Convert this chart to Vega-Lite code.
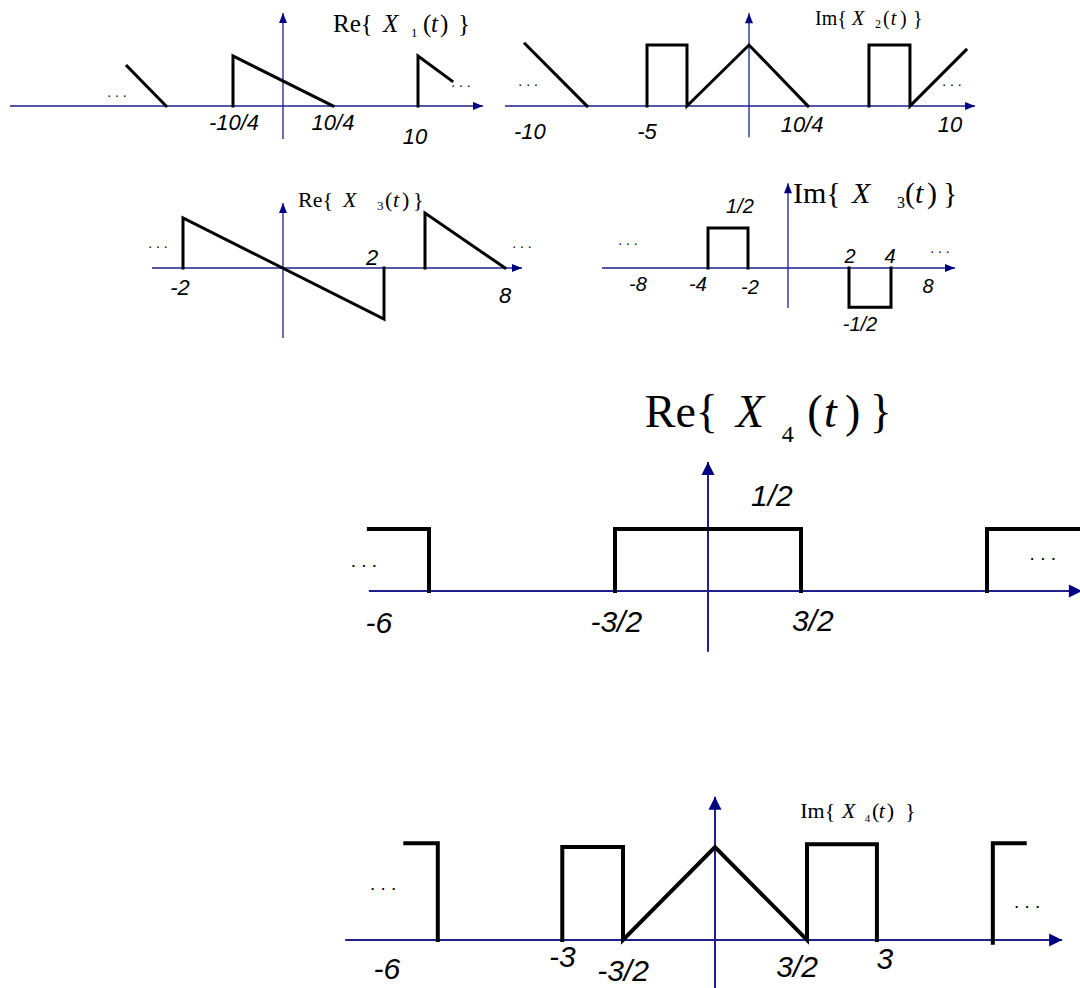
{
"$schema": "https://vega.github.io/schema/vega-lite/v6.json",
"width": 1080, "height": 988, "padding": 0, "autosize": {"type": "none"},
"background": "white",
"config": {"view": {"stroke": null}},
"datasets": {
"sig": [
{"p":1,"s":"a","i":0,"t":-7.8,"v":0.8},{"p":1,"s":"a","i":1,"t":-5.85,"v":0},
{"p":1,"s":"b","i":0,"t":-2.5,"v":0},{"p":1,"s":"b","i":1,"t":-2.5,"v":1},{"p":1,"s":"b","i":2,"t":2.5,"v":0},
{"p":1,"s":"c","i":0,"t":6.75,"v":0},{"p":1,"s":"c","i":1,"t":6.75,"v":1},{"p":1,"s":"c","i":2,"t":8.45,"v":0.5},
{"p":2,"s":"a","i":0,"t":-10.98,"v":1.02},{"p":2,"s":"a","i":1,"t":-7.94,"v":0},
{"p":2,"s":"b","i":0,"t":-5,"v":0},{"p":2,"s":"b","i":1,"t":-5,"v":1},{"p":2,"s":"b","i":2,"t":-3.04,"v":1},{"p":2,"s":"b","i":3,"t":-3.04,"v":0},{"p":2,"s":"b","i":4,"t":0,"v":1},{"p":2,"s":"b","i":5,"t":2.89,"v":0},
{"p":2,"s":"c","i":0,"t":5.88,"v":0},{"p":2,"s":"c","i":1,"t":5.88,"v":1},{"p":2,"s":"c","i":2,"t":7.89,"v":1},{"p":2,"s":"c","i":3,"t":7.89,"v":0},{"p":2,"s":"c","i":4,"t":10.64,"v":0.92},
{"p":3,"s":"a","i":0,"t":-2,"v":0},{"p":3,"s":"a","i":1,"t":-2,"v":1},{"p":3,"s":"a","i":2,"t":2.02,"v":-1.02},{"p":3,"s":"a","i":3,"t":2.02,"v":0},
{"p":3,"s":"b","i":0,"t":2.84,"v":0},{"p":3,"s":"b","i":1,"t":2.84,"v":1.1},{"p":3,"s":"b","i":2,"t":4.44,"v":0},
{"p":4,"s":"a","i":0,"t":-4,"v":0},{"p":4,"s":"a","i":1,"t":-4,"v":0.5},{"p":4,"s":"a","i":2,"t":-2,"v":0.5},{"p":4,"s":"a","i":3,"t":-2,"v":0},
{"p":4,"s":"b","i":0,"t":3.05,"v":0},{"p":4,"s":"b","i":1,"t":3.05,"v":-0.49},{"p":4,"s":"b","i":2,"t":5.15,"v":-0.49},{"p":4,"s":"b","i":3,"t":5.15,"v":0},
{"p":5,"s":"a","i":0,"t":-5.47,"v":0.5},{"p":5,"s":"a","i":1,"t":-4.5,"v":0.5},{"p":5,"s":"a","i":2,"t":-4.5,"v":0},
{"p":5,"s":"b","i":0,"t":-1.5,"v":0},{"p":5,"s":"b","i":1,"t":-1.5,"v":0.5},{"p":5,"s":"b","i":2,"t":1.5,"v":0.5},{"p":5,"s":"b","i":3,"t":1.5,"v":0},
{"p":5,"s":"c","i":0,"t":4.5,"v":0},{"p":5,"s":"c","i":1,"t":4.5,"v":0.5},{"p":5,"s":"c","i":2,"t":6.1,"v":0.5},
{"p":6,"s":"a","i":0,"t":-5.05,"v":1.04},{"p":6,"s":"a","i":1,"t":-4.52,"v":1.04},{"p":6,"s":"a","i":2,"t":-4.52,"v":0},
{"p":6,"s":"b","i":0,"t":-2.49,"v":0},{"p":6,"s":"b","i":1,"t":-2.49,"v":1.0},{"p":6,"s":"b","i":2,"t":-1.5,"v":1.0},{"p":6,"s":"b","i":3,"t":-1.5,"v":0},{"p":6,"s":"b","i":4,"t":0,"v":1.0},{"p":6,"s":"b","i":5,"t":1.5,"v":0},{"p":6,"s":"b","i":6,"t":1.5,"v":1.03},{"p":6,"s":"b","i":7,"t":2.64,"v":1.03},{"p":6,"s":"b","i":8,"t":2.64,"v":0},
{"p":6,"s":"c","i":0,"t":4.53,"v":-0.03},{"p":6,"s":"c","i":1,"t":4.53,"v":1.04},{"p":6,"s":"c","i":2,"t":5.05,"v":1.04}
],
"ax": [
{"p":1,"t":-13.65,"t2":10,"v":0,"v2":0},{"p":1,"t":0,"t2":0,"v":-0.66,"v2":1.86},
{"p":2,"t":-11.96,"t2":11.08,"v":0,"v2":0},{"p":2,"t":0,"t2":0,"v":-0.51,"v2":1.52},
{"p":3,"t":-2.62,"t2":4.78,"v":0,"v2":0},{"p":3,"t":0,"t2":0,"v":-1.4,"v2":1.3},
{"p":4,"t":-9.3,"t2":8.35,"v":0,"v2":0},{"p":4,"t":0,"t2":0,"v":-0.5,"v2":1.06},
{"p":5,"t":-5.47,"t2":6.03,"v":0,"v2":0},{"p":5,"t":0,"t2":0,"v":-0.49,"v2":1.04},
{"p":6,"t":-6.03,"t2":5.66,"v":0,"v2":0},{"p":6,"t":0,"t2":0,"v":-0.6,"v2":1.54}
],
"tip": [
{"p":1,"d":"h","t":10,"v":0},{"p":1,"d":"v","t":0,"v":1.86},
{"p":2,"d":"h","t":11.08,"v":0},{"p":2,"d":"v","t":0,"v":1.52},
{"p":3,"d":"h","t":4.78,"v":0},{"p":3,"d":"v","t":0,"v":1.3},
{"p":4,"d":"h","t":8.35,"v":0},{"p":4,"d":"v","t":0,"v":1.06},
{"p":5,"d":"h","t":6.03,"v":0},{"p":5,"d":"v","t":0,"v":1.04},
{"p":6,"d":"h","t":5.66,"v":0},{"p":6,"d":"v","t":0,"v":1.54}
],
"lab": [
{"p":1,"t":-2.45,"v":-0.34,"text":"-10/4"},{"p":1,"t":2.5,"v":-0.34,"text":"10/4"},{"p":1,"t":6.6,"v":-0.62,"text":"10"},
{"p":2,"t":-10.74,"v":-0.43,"text":"-10"},{"p":2,"t":-5,"v":-0.42,"text":"-5"},{"p":2,"t":2.6,"v":-0.31,"text":"10/4"},{"p":2,"t":9.85,"v":-0.31,"text":"10"},
{"p":3,"t":-2.06,"v":-0.4,"text":"-2"},{"p":3,"t":1.78,"v":0.2,"text":"2"},{"p":3,"t":4.44,"v":-0.56,"text":"8"},
{"p":4,"t":-2.4,"v":0.76,"text":"1/2"},{"p":4,"t":-7.5,"v":-0.21,"text":"-8"},{"p":4,"t":-4.5,"v":-0.21,"text":"-4"},{"p":4,"t":-1.9,"v":-0.25,"text":"-2"},{"p":4,"t":3.1,"v":0.14,"text":"2"},{"p":4,"t":5.1,"v":0.14,"text":"4"},{"p":4,"t":7.0,"v":-0.24,"text":"8"},{"p":4,"t":3.6,"v":-0.71,"text":"-1/2"},
{"p":5,"t":1.03,"v":0.76,"text":"1/2"},{"p":5,"t":-5.31,"v":-0.27,"text":"-6"},{"p":5,"t":-1.48,"v":-0.26,"text":"-3/2"},{"p":5,"t":1.69,"v":-0.25,"text":"3/2"},
{"p":6,"t":-5.35,"v":-0.32,"text":"-6"},{"p":6,"t":-2.49,"v":-0.19,"text":"-3"},{"p":6,"t":-1.5,"v":-0.34,"text":"-3/2"},{"p":6,"t":1.34,"v":-0.3,"text":"3/2"},{"p":6,"t":2.77,"v":-0.22,"text":"3"}
],
"dot": [
{"p":1,"t":-8.3,"v":0.18},{"p":1,"t":8.9,"v":0.38},
{"p":2,"t":-10.83,"v":0.33},{"p":2,"t":9.95,"v":0.33},
{"p":3,"t":-2.5,"v":0.4},{"p":3,"t":4.78,"v":0.4},
{"p":4,"t":-8.0,"v":0.29},{"p":4,"t":7.6,"v":0.19},
{"p":5,"t":-5.55,"v":0.19},{"p":5,"t":5.4,"v":0.25},
{"p":6,"t":-5.41,"v":0.54},{"p":6,"t":5.09,"v":0.34}
],
"ttl": [
{"p":1,"k":"n","t":2.5,"v":1.48,"text":"Re{"},{"p":1,"k":"i","t":5.0,"v":1.48,"text":"X"},{"p":1,"k":"s","t":6.4,"v":1.38,"text":"1"},{"p":1,"k":"n","t":7.0,"v":1.48,"text":"("},{"p":1,"k":"i","t":7.4,"v":1.48,"text":"t"},{"p":1,"k":"n","t":7.85,"v":1.48,"text":")"},{"p":1,"k":"n","t":8.75,"v":1.48,"text":"}"},
{"p":2,"k":"n","t":3.24,"v":1.33,"text":"Im{"},{"p":2,"k":"i","t":5.05,"v":1.33,"text":"X"},{"p":2,"k":"s","t":6.18,"v":1.28,"text":"2"},{"p":2,"k":"n","t":6.57,"v":1.33,"text":"("},{"p":2,"k":"i","t":6.95,"v":1.33,"text":"t"},{"p":2,"k":"n","t":7.4,"v":1.33,"text":")"},{"p":2,"k":"n","t":8.04,"v":1.33,"text":"}"},
{"p":3,"k":"n","t":0.3,"v":1.22,"text":"Re{"},{"p":3,"k":"i","t":1.2,"v":1.22,"text":"X"},{"p":3,"k":"s","t":1.88,"v":1.16,"text":"3"},{"p":3,"k":"n","t":2.04,"v":1.22,"text":"("},{"p":3,"k":"i","t":2.2,"v":1.22,"text":"t"},{"p":3,"k":"n","t":2.38,"v":1.22,"text":")"},{"p":3,"k":"n","t":2.6,"v":1.22,"text":"}"},
{"p":4,"k":"n","t":0.25,"v":0.81,"text":"Im{"},{"p":4,"k":"i","t":3.2,"v":0.81,"text":"X"},{"p":4,"k":"s","t":5.45,"v":0.75,"text":"3"},{"p":4,"k":"n","t":5.85,"v":0.81,"text":"("},{"p":4,"k":"i","t":6.35,"v":0.81,"text":"t"},{"p":4,"k":"n","t":6.95,"v":0.81,"text":")"},{"p":4,"k":"n","t":7.75,"v":0.81,"text":"}"},
{"p":5,"k":"n","t":-1.02,"v":1.32,"text":"Re{"},{"p":5,"k":"i","t":0.45,"v":1.32,"text":"X"},{"p":5,"k":"s","t":1.19,"v":1.2,"text":"4"},{"p":5,"k":"n","t":1.6,"v":1.32,"text":"("},{"p":5,"k":"i","t":1.87,"v":1.32,"text":"t"},{"p":5,"k":"n","t":2.21,"v":1.32,"text":")"},{"p":5,"k":"n","t":2.61,"v":1.32,"text":"}"},
{"p":6,"k":"n","t":1.39,"v":1.31,"text":"Im{"},{"p":6,"k":"i","t":2.07,"v":1.31,"text":"X"},{"p":6,"k":"s","t":2.44,"v":1.27,"text":"4"},{"p":6,"k":"n","t":2.56,"v":1.31,"text":"("},{"p":6,"k":"i","t":2.67,"v":1.31,"text":"t"},{"p":6,"k":"n","t":2.8,"v":1.31,"text":")"},{"p":6,"k":"n","t":3.1,"v":1.31,"text":"}"}
]
},
"resolve": {"scale": {"x": "independent", "y": "independent"}},
"layer": [
{
"encoding": {
"x": {"field": "t", "type": "quantitative", "scale": {"domain": [-14.15, 39.85], "nice": false, "zero": false}, "axis": null},
"y": {"field": "v", "type": "quantitative", "scale": {"domain": [-17.64, 2.12], "nice": false, "zero": false}, "axis": null}
},
"layer": [
{"data": {"name": "ax"}, "transform": [{"filter": "datum.p == 1"}], "mark": {"type": "rule", "color": "#1f1f8f", "strokeWidth": 1.3}, "encoding": {"x2": {"field": "t2"}, "y2": {"field": "v2"}}},
{"data": {"name": "tip"}, "transform": [{"filter": "datum.p == 1 && datum.d == 'h'"}], "mark": {"type": "point", "shape": "M 0 0 L -2.5 -1 L -2.5 1 Z", "filled": true, "size": 64, "color": "#000080", "opacity": 1}},
{"data": {"name": "tip"}, "transform": [{"filter": "datum.p == 1 && datum.d == 'v'"}], "mark": {"type": "point", "shape": "M 0 0 L -1 2.5 L 1 2.5 Z", "filled": true, "size": 64, "color": "#000080", "opacity": 1}},
{"data": {"name": "sig"}, "transform": [{"filter": "datum.p == 1"}], "mark": {"type": "line", "color": "black", "strokeWidth": 3, "strokeJoin": "miter", "strokeCap": "square"}, "encoding": {"detail": {"field": "s", "type": "nominal"}, "order": {"field": "i", "type": "quantitative"}}},
{"data": {"name": "lab"}, "transform": [{"filter": "datum.p == 1"}], "mark": {"type": "text", "font": "Liberation Sans", "fontStyle": "italic", "fontSize": 22, "align": "center", "baseline": "middle", "color": "black"}, "encoding": {"text": {"field": "text"}}},
{"data": {"name": "dot"}, "transform": [{"filter": "datum.p == 1"}], "mark": {"type": "text", "text": ". . .", "font": "Liberation Sans", "fontSize": 14, "align": "center", "baseline": "alphabetic", "color": "black"}},
{"data": {"name": "ttl"}, "transform": [{"filter": "datum.p == 1 && datum.k == 'n'"}], "mark": {"type": "text", "font": "Liberation Serif", "fontSize": 25, "align": "left", "baseline": "alphabetic", "color": "black"}, "encoding": {"text": {"field": "text"}}},
{"data": {"name": "ttl"}, "transform": [{"filter": "datum.p == 1 && datum.k == 'i'"}], "mark": {"type": "text", "font": "Liberation Serif", "fontStyle": "italic", "fontSize": 25, "align": "left", "baseline": "alphabetic", "color": "black"}, "encoding": {"text": {"field": "text"}}},
{"data": {"name": "ttl"}, "transform": [{"filter": "datum.p == 1 && datum.k == 's'"}], "mark": {"type": "text", "font": "Liberation Serif", "fontSize": 13, "align": "left", "baseline": "alphabetic", "color": "black"}, "encoding": {"text": {"field": "text"}}}
]
},
{
"encoding": {
"x": {"field": "t", "type": "quantitative", "scale": {"domain": [-36.716, 16.225], "nice": false, "zero": false}, "axis": null},
"y": {"field": "v", "type": "quantitative", "scale": {"domain": [-14.459, 1.738], "nice": false, "zero": false}, "axis": null}
},
"layer": [
{"data": {"name": "ax"}, "transform": [{"filter": "datum.p == 2"}], "mark": {"type": "rule", "color": "#1f1f8f", "strokeWidth": 1.3}, "encoding": {"x2": {"field": "t2"}, "y2": {"field": "v2"}}},
{"data": {"name": "tip"}, "transform": [{"filter": "datum.p == 2 && datum.d == 'h'"}], "mark": {"type": "point", "shape": "M 0 0 L -2.5 -1 L -2.5 1 Z", "filled": true, "size": 64, "color": "#000080", "opacity": 1}},
{"data": {"name": "tip"}, "transform": [{"filter": "datum.p == 2 && datum.d == 'v'"}], "mark": {"type": "point", "shape": "M 0 0 L -1 2.5 L 1 2.5 Z", "filled": true, "size": 64, "color": "#000080", "opacity": 1}},
{"data": {"name": "sig"}, "transform": [{"filter": "datum.p == 2"}], "mark": {"type": "line", "color": "black", "strokeWidth": 3, "strokeJoin": "miter", "strokeCap": "square"}, "encoding": {"detail": {"field": "s", "type": "nominal"}, "order": {"field": "i", "type": "quantitative"}}},
{"data": {"name": "lab"}, "transform": [{"filter": "datum.p == 2"}], "mark": {"type": "text", "font": "Liberation Sans", "fontStyle": "italic", "fontSize": 22, "align": "center", "baseline": "middle", "color": "black"}, "encoding": {"text": {"field": "text"}}},
{"data": {"name": "dot"}, "transform": [{"filter": "datum.p == 2"}], "mark": {"type": "text", "text": ". . .", "font": "Liberation Sans", "fontSize": 14, "align": "center", "baseline": "alphabetic", "color": "black"}},
{"data": {"name": "ttl"}, "transform": [{"filter": "datum.p == 2 && datum.k == 'n'"}], "mark": {"type": "text", "font": "Liberation Serif", "fontSize": 20, "align": "left", "baseline": "alphabetic", "color": "black"}, "encoding": {"text": {"field": "text"}}},
{"data": {"name": "ttl"}, "transform": [{"filter": "datum.p == 2 && datum.k == 'i'"}], "mark": {"type": "text", "font": "Liberation Serif", "fontStyle": "italic", "fontSize": 20, "align": "left", "baseline": "alphabetic", "color": "black"}, "encoding": {"text": {"field": "text"}}},
{"data": {"name": "ttl"}, "transform": [{"filter": "datum.p == 2 && datum.k == 's'"}], "mark": {"type": "text", "font": "Liberation Serif", "fontSize": 12, "align": "left", "baseline": "alphabetic", "color": "black"}, "encoding": {"text": {"field": "text"}}}
]
},
{
"encoding": {
"x": {"field": "t", "type": "quantitative", "scale": {"domain": [-5.66, 15.94], "nice": false, "zero": false}, "axis": null},
"y": {"field": "v", "type": "quantitative", "scale": {"domain": [-14.4, 5.36], "nice": false, "zero": false}, "axis": null}
},
"layer": [
{"data": {"name": "ax"}, "transform": [{"filter": "datum.p == 3"}], "mark": {"type": "rule", "color": "#1f1f8f", "strokeWidth": 1.3}, "encoding": {"x2": {"field": "t2"}, "y2": {"field": "v2"}}},
{"data": {"name": "tip"}, "transform": [{"filter": "datum.p == 3 && datum.d == 'h'"}], "mark": {"type": "point", "shape": "M 0 0 L -2.5 -1 L -2.5 1 Z", "filled": true, "size": 64, "color": "#000080", "opacity": 1}},
{"data": {"name": "tip"}, "transform": [{"filter": "datum.p == 3 && datum.d == 'v'"}], "mark": {"type": "point", "shape": "M 0 0 L -1 2.5 L 1 2.5 Z", "filled": true, "size": 64, "color": "#000080", "opacity": 1}},
{"data": {"name": "sig"}, "transform": [{"filter": "datum.p == 3"}], "mark": {"type": "line", "color": "black", "strokeWidth": 3, "strokeJoin": "miter", "strokeCap": "square"}, "encoding": {"detail": {"field": "s", "type": "nominal"}, "order": {"field": "i", "type": "quantitative"}}},
{"data": {"name": "lab"}, "transform": [{"filter": "datum.p == 3"}], "mark": {"type": "text", "font": "Liberation Sans", "fontStyle": "italic", "fontSize": 22, "align": "center", "baseline": "middle", "color": "black"}, "encoding": {"text": {"field": "text"}}},
{"data": {"name": "dot"}, "transform": [{"filter": "datum.p == 3"}], "mark": {"type": "text", "text": ". . .", "font": "Liberation Sans", "fontSize": 14, "align": "center", "baseline": "alphabetic", "color": "black"}},
{"data": {"name": "ttl"}, "transform": [{"filter": "datum.p == 3 && datum.k == 'n'"}], "mark": {"type": "text", "font": "Liberation Serif", "fontSize": 22, "align": "left", "baseline": "alphabetic", "color": "black"}, "encoding": {"text": {"field": "text"}}},
{"data": {"name": "ttl"}, "transform": [{"filter": "datum.p == 3 && datum.k == 'i'"}], "mark": {"type": "text", "font": "Liberation Serif", "fontStyle": "italic", "fontSize": 22, "align": "left", "baseline": "alphabetic", "color": "black"}, "encoding": {"text": {"field": "text"}}},
{"data": {"name": "ttl"}, "transform": [{"filter": "datum.p == 3 && datum.k == 's'"}], "mark": {"type": "text", "font": "Liberation Serif", "fontSize": 13, "align": "left", "baseline": "alphabetic", "color": "black"}, "encoding": {"text": {"field": "text"}}}
]
},
{
"encoding": {
"x": {"field": "t", "type": "quantitative", "scale": {"domain": [-39.4, 14.6], "nice": false, "zero": false}, "axis": null},
"y": {"field": "v", "type": "quantitative", "scale": {"domain": [-9.0, 3.35], "nice": false, "zero": false}, "axis": null}
},
"layer": [
{"data": {"name": "ax"}, "transform": [{"filter": "datum.p == 4"}], "mark": {"type": "rule", "color": "#1f1f8f", "strokeWidth": 1.3}, "encoding": {"x2": {"field": "t2"}, "y2": {"field": "v2"}}},
{"data": {"name": "tip"}, "transform": [{"filter": "datum.p == 4 && datum.d == 'h'"}], "mark": {"type": "point", "shape": "M 0 0 L -2.5 -1 L -2.5 1 Z", "filled": true, "size": 64, "color": "#000080", "opacity": 1}},
{"data": {"name": "tip"}, "transform": [{"filter": "datum.p == 4 && datum.d == 'v'"}], "mark": {"type": "point", "shape": "M 0 0 L -1 2.5 L 1 2.5 Z", "filled": true, "size": 64, "color": "#000080", "opacity": 1}},
{"data": {"name": "sig"}, "transform": [{"filter": "datum.p == 4"}], "mark": {"type": "line", "color": "black", "strokeWidth": 3, "strokeJoin": "miter", "strokeCap": "square"}, "encoding": {"detail": {"field": "s", "type": "nominal"}, "order": {"field": "i", "type": "quantitative"}}},
{"data": {"name": "lab"}, "transform": [{"filter": "datum.p == 4"}], "mark": {"type": "text", "font": "Liberation Sans", "fontStyle": "italic", "fontSize": 20, "align": "center", "baseline": "middle", "color": "black"}, "encoding": {"text": {"field": "text"}}},
{"data": {"name": "dot"}, "transform": [{"filter": "datum.p == 4"}], "mark": {"type": "text", "text": ". . .", "font": "Liberation Sans", "fontSize": 14, "align": "center", "baseline": "alphabetic", "color": "black"}},
{"data": {"name": "ttl"}, "transform": [{"filter": "datum.p == 4 && datum.k == 'n'"}], "mark": {"type": "text", "font": "Liberation Serif", "fontSize": 30, "align": "left", "baseline": "alphabetic", "color": "black"}, "encoding": {"text": {"field": "text"}}},
{"data": {"name": "ttl"}, "transform": [{"filter": "datum.p == 4 && datum.k == 'i'"}], "mark": {"type": "text", "font": "Liberation Serif", "fontStyle": "italic", "fontSize": 30, "align": "left", "baseline": "alphabetic", "color": "black"}, "encoding": {"text": {"field": "text"}}},
{"data": {"name": "ttl"}, "transform": [{"filter": "datum.p == 4 && datum.k == 's'"}], "mark": {"type": "text", "font": "Liberation Serif", "fontSize": 16, "align": "left", "baseline": "alphabetic", "color": "black"}, "encoding": {"text": {"field": "text"}}}
]
},
{
"encoding": {
"x": {"field": "t", "type": "quantitative", "scale": {"domain": [-11.4194, 6.0], "nice": false, "zero": false}, "axis": null},
"y": {"field": "v", "type": "quantitative", "scale": {"domain": [-3.2016, 4.7661], "nice": false, "zero": false}, "axis": null}
},
"layer": [
{"data": {"name": "ax"}, "transform": [{"filter": "datum.p == 5"}], "mark": {"type": "rule", "color": "#1f1f8f", "strokeWidth": 2}, "encoding": {"x2": {"field": "t2"}, "y2": {"field": "v2"}}},
{"data": {"name": "tip"}, "transform": [{"filter": "datum.p == 5 && datum.d == 'h'"}], "mark": {"type": "point", "shape": "M 0 0 L -2 -1 L -2 1 Z", "filled": true, "size": 169, "color": "#000080", "opacity": 1}},
{"data": {"name": "tip"}, "transform": [{"filter": "datum.p == 5 && datum.d == 'v'"}], "mark": {"type": "point", "shape": "M 0 0 L -1 2 L 1 2 Z", "filled": true, "size": 169, "color": "#000080", "opacity": 1}},
{"data": {"name": "sig"}, "transform": [{"filter": "datum.p == 5"}], "mark": {"type": "line", "color": "black", "strokeWidth": 4, "strokeJoin": "miter", "strokeCap": "square"}, "encoding": {"detail": {"field": "s", "type": "nominal"}, "order": {"field": "i", "type": "quantitative"}}},
{"data": {"name": "lab"}, "transform": [{"filter": "datum.p == 5"}], "mark": {"type": "text", "font": "Liberation Sans", "fontStyle": "italic", "fontSize": 30, "align": "center", "baseline": "middle", "color": "black"}, "encoding": {"text": {"field": "text"}}},
{"data": {"name": "dot"}, "transform": [{"filter": "datum.p == 5"}], "mark": {"type": "text", "text": ". . .", "font": "Liberation Sans", "fontSize": 19, "align": "center", "baseline": "alphabetic", "color": "black"}},
{"data": {"name": "ttl"}, "transform": [{"filter": "datum.p == 5 && datum.k == 'n'"}], "mark": {"type": "text", "font": "Liberation Serif", "fontSize": 46, "align": "left", "baseline": "alphabetic", "color": "black"}, "encoding": {"text": {"field": "text"}}},
{"data": {"name": "ttl"}, "transform": [{"filter": "datum.p == 5 && datum.k == 'i'"}], "mark": {"type": "text", "font": "Liberation Serif", "fontStyle": "italic", "fontSize": 46, "align": "left", "baseline": "alphabetic", "color": "black"}, "encoding": {"text": {"field": "text"}}},
{"data": {"name": "ttl"}, "transform": [{"filter": "datum.p == 5 && datum.k == 's'"}], "mark": {"type": "text", "font": "Liberation Serif", "fontSize": 24, "align": "left", "baseline": "alphabetic", "color": "black"}, "encoding": {"text": {"field": "text"}}}
]
},
{
"encoding": {
"x": {"field": "t", "type": "quantitative", "scale": {"domain": [-11.6583, 5.9514], "nice": false, "zero": false}, "axis": null},
"y": {"field": "v", "type": "quantitative", "scale": {"domain": [-0.5161, 10.1075], "nice": false, "zero": false}, "axis": null}
},
"layer": [
{"data": {"name": "ax"}, "transform": [{"filter": "datum.p == 6"}], "mark": {"type": "rule", "color": "#1f1f8f", "strokeWidth": 2}, "encoding": {"x2": {"field": "t2"}, "y2": {"field": "v2"}}},
{"data": {"name": "tip"}, "transform": [{"filter": "datum.p == 6 && datum.d == 'h'"}], "mark": {"type": "point", "shape": "M 0 0 L -2 -1 L -2 1 Z", "filled": true, "size": 169, "color": "#000080", "opacity": 1}},
{"data": {"name": "tip"}, "transform": [{"filter": "datum.p == 6 && datum.d == 'v'"}], "mark": {"type": "point", "shape": "M 0 0 L -1 2 L 1 2 Z", "filled": true, "size": 169, "color": "#000080", "opacity": 1}},
{"data": {"name": "sig"}, "transform": [{"filter": "datum.p == 6"}], "mark": {"type": "line", "color": "black", "strokeWidth": 4, "strokeJoin": "miter", "strokeCap": "square"}, "encoding": {"detail": {"field": "s", "type": "nominal"}, "order": {"field": "i", "type": "quantitative"}}},
{"data": {"name": "lab"}, "transform": [{"filter": "datum.p == 6"}], "mark": {"type": "text", "font": "Liberation Sans", "fontStyle": "italic", "fontSize": 30, "align": "center", "baseline": "middle", "color": "black"}, "encoding": {"text": {"field": "text"}}},
{"data": {"name": "dot"}, "transform": [{"filter": "datum.p == 6"}], "mark": {"type": "text", "text": ". . .", "font": "Liberation Sans", "fontSize": 19, "align": "center", "baseline": "alphabetic", "color": "black"}},
{"data": {"name": "ttl"}, "transform": [{"filter": "datum.p == 6 && datum.k == 'n'"}], "mark": {"type": "text", "font": "Liberation Serif", "fontSize": 22, "align": "left", "baseline": "alphabetic", "color": "black"}, "encoding": {"text": {"field": "text"}}},
{"data": {"name": "ttl"}, "transform": [{"filter": "datum.p == 6 && datum.k == 'i'"}], "mark": {"type": "text", "font": "Liberation Serif", "fontStyle": "italic", "fontSize": 22, "align": "left", "baseline": "alphabetic", "color": "black"}, "encoding": {"text": {"field": "text"}}},
{"data": {"name": "ttl"}, "transform": [{"filter": "datum.p == 6 && datum.k == 's'"}], "mark": {"type": "text", "font": "Liberation Serif", "fontSize": 11, "align": "left", "baseline": "alphabetic", "color": "black"}, "encoding": {"text": {"field": "text"}}}
]
}
]
}
